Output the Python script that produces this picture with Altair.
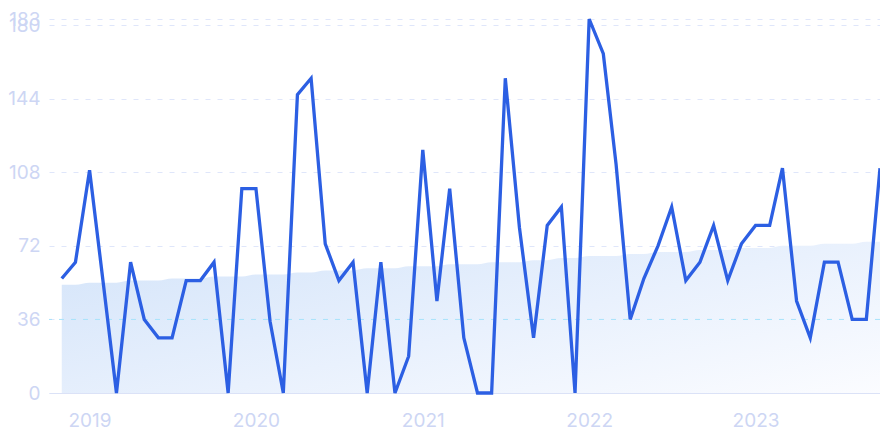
import altair as alt
import pandas as pd

# Monthly series, Nov 2018 .. Oct 2023
start_month = "2018-11-01"
values = [56, 64, 109, 52, 0, 64, 36, 27, 27, 55,
          55, 64, 0, 100, 100, 35, 0, 146, 154, 73,
          55, 64, 0, 64, 0, 18, 119, 45, 100, 27,
          0, 0, 154, 81, 27, 82, 91, 0, 183, 166,
          112, 36, 56, 72, 91, 55, 64, 82, 55, 73,
          82, 82, 110, 45, 27, 64, 64, 36, 36, 110]
trend = [53, 53, 54, 54, 54, 55, 55, 55, 56, 56,
         56, 57, 57, 57, 58, 58, 58, 59, 59, 60,
         60, 60, 61, 61, 61, 62, 62, 62, 63, 63,
         63, 64, 64, 64, 65, 65, 66, 66, 67, 67,
         67, 68, 68, 69, 69, 69, 70, 70, 70, 71,
         71, 71, 72, 72, 72, 73, 73, 73, 74, 74]
y_ticks = [0, 36, 72, 108, 144, 180, 183]
y_max = 183
highlight_level = [36]
x_domain = ["2018-10-04", "2023-10-01"]

months = pd.date_range(start_month, periods=len(values), freq="MS").strftime("%Y-%m-%d")
df = pd.DataFrame({"date": months, "value": values, "trend": trend})

LABEL = "#cdd6f4"
GRID = "#dfe6fa"

x_enc = alt.X(
    "date:T",
    scale=alt.Scale(domain=x_domain),
    axis=alt.Axis(
        format="%Y", tickCount={"interval": "year", "step": 1}, grid=False,
        ticks=False, domain=True, domainColor="#dbe2f7", domainWidth=1,
        labelPadding=18, title=None, labelFlush=False,
    ),
)

area = alt.Chart(df).mark_area(
    color=alt.Gradient(
        gradient="linear",
        stops=[alt.GradientStop(color="#d7e6fa", offset=0),
               alt.GradientStop(color="#e9f1fd", offset=0.5),
               alt.GradientStop(color="#fbfcff", offset=1)],
        x1=0, y1=0.2, x2=1, y2=1,
    ),
    interpolate="monotone",
).encode(
    x=x_enc,
    y=alt.Y(
        "trend:Q",
        scale=alt.Scale(domain=[0, y_max], nice=False, zero=True),
        axis=alt.Axis(
            values=y_ticks, grid=True, gridColor=GRID, gridDash=[5, 7], gridWidth=1,
            ticks=False, domain=False, labelPadding=9, title=None, labelOverlap=False,
        ),
    ),
)

rule = alt.Chart(pd.DataFrame({"level": highlight_level})).mark_rule(
    color="#a7e2fb", strokeDash=[5, 7], strokeWidth=1
).encode(y=alt.Y("level:Q"))

line = alt.Chart(df).mark_line(
    color="#2c5fe3", strokeWidth=3.3, strokeJoin="miter", strokeCap="butt"
).encode(x="date:T", y="value:Q")

chart = alt.layer(area, rule, line).properties(
    width=831, height=374,
    autosize=alt.AutoSizeParams(type="none"),
    padding={"left": 41, "top": 11, "right": 0, "bottom": 39},
    background="white",
).configure_view(stroke=None).configure_axis(
    labelFont="Inter", labelFontSize=19, labelColor=LABEL,
)

chart.save("out.html", embed_options={"renderer": "svg", "actions": False})
